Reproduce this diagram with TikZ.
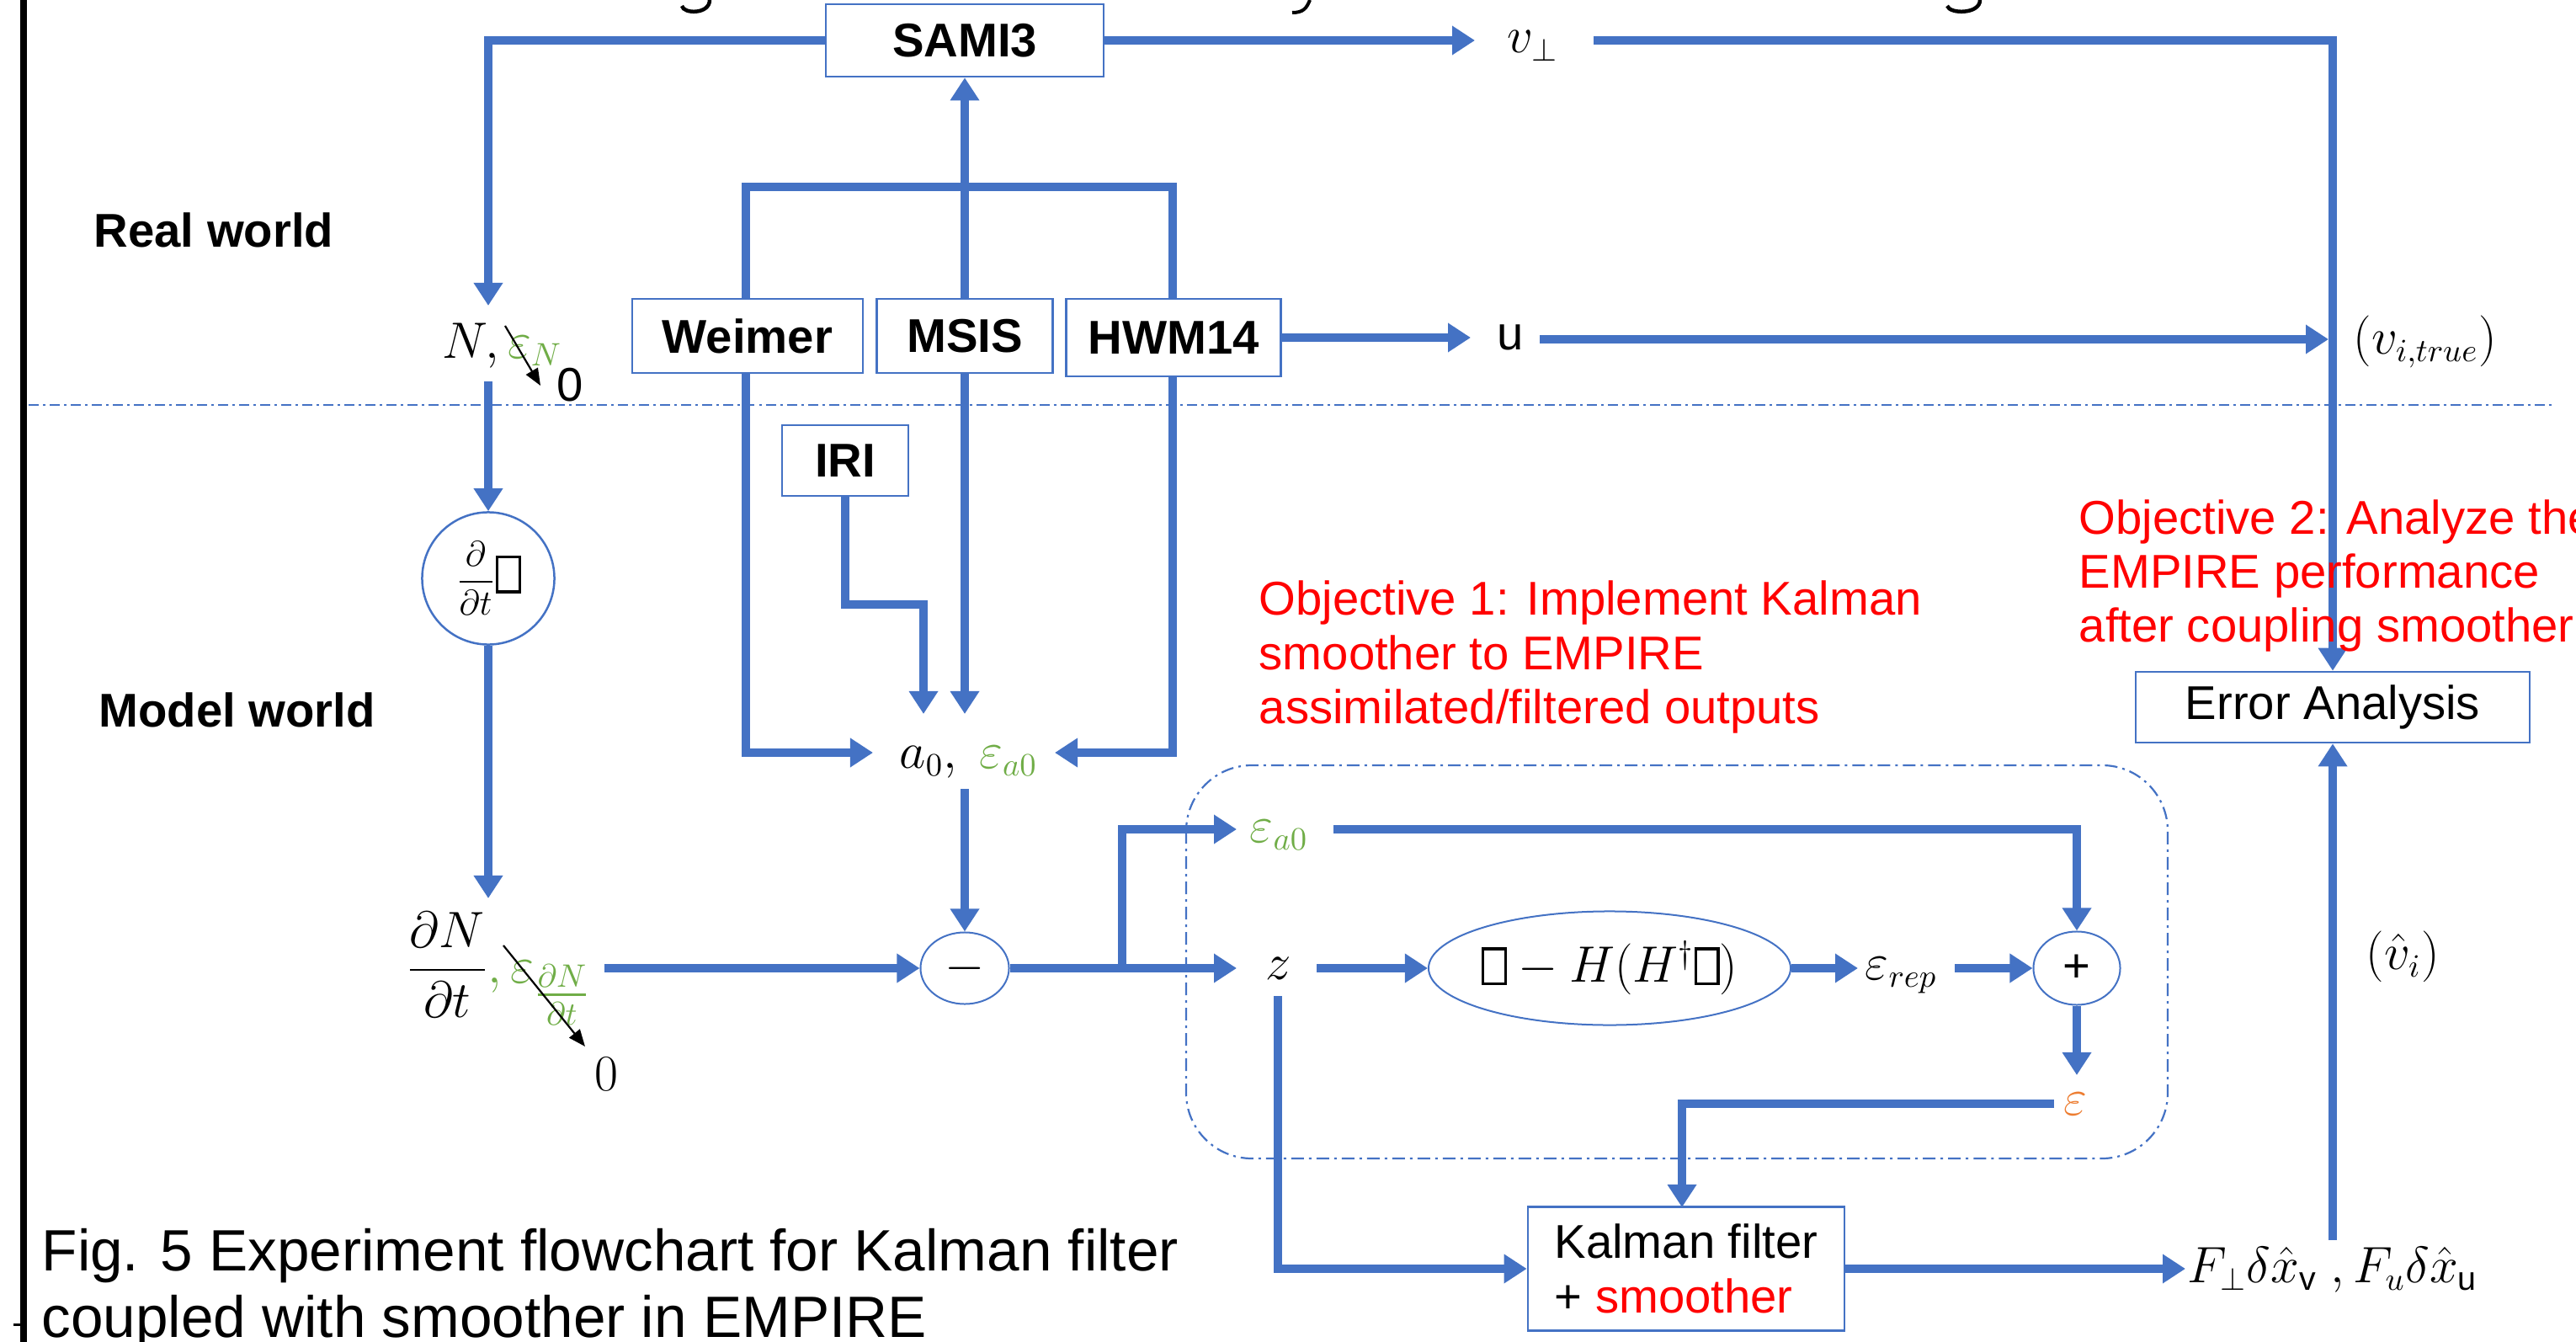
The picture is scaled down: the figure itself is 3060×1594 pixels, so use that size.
\documentclass[tikz,border=0pt]{standalone}
\usepackage{amsmath}
\usepackage{fontspec}
\setmainfont{Liberation Sans}
\usetikzlibrary{arrows.meta,shapes.geometric,calc}
\definecolor{myblue}{HTML}{4472C4}
\definecolor{mygreen}{HTML}{70AD47}
\definecolor{myorange}{HTML}{ED7D31}
\newcommand\nbox{\mbox{\setlength{\fboxsep}{0pt}\setlength{\fboxrule}{0.9pt}\fbox{\rule{0pt}{0.68em}\hspace{0.42em}}}}
\newcommand\fsz{\fontsize{16}{18.4}\selectfont}
\pgfdeclarelayer{background}
\pgfsetlayers{background,main}
\tikzset{
  arr/.style={draw=myblue, line width=0.1cm, -{Triangle[length=0.27cm,width=0.33cm]}},
  arrboth/.style={draw=myblue, line width=0.1cm, {Triangle[length=0.27cm,width=0.33cm]}-{Triangle[length=0.27cm,width=0.33cm]}},
  blkbox/.style={draw=myblue, line width=0.025cm, fill=white, font=\fsz\bfseries, inner sep=0},
  plainbox/.style={draw=myblue, line width=0.025cm, fill=white, inner sep=0},
  lbl/.style={inner sep=0},
  blkarr/.style={draw=black, line width=0.022cm, -{Triangle[length=0.2cm,width=0.16cm]}},
  dashline/.style={draw=myblue, line width=0.025cm, dash pattern=on 0.12cm off 0.05cm on 0.03cm off 0.05cm},
  dashbox/.style={draw=myblue, line width=0.022cm, dash pattern=on 0.15cm off 0.06cm on 0.03cm off 0.06cm, rounded corners=0.78cm},
  redtxt/.style={inner sep=0, anchor=base west, text=red},
  figcap/.style={inner sep=0, anchor=base west, font=\fontsize{19.7}{22}\selectfont},
  worldlbl/.style={inner sep=0, anchor=west, font=\fsz\bfseries}
}
\begin{document}
\begin{tikzpicture}[x=0.01cm,y=-0.01cm,font=\fsz]
\useasboundingbox (0,0) rectangle (3060,1594);
\clip (0,0) rectangle (3060,1594);

% left black rule and fragments
\draw[line width=0.08cm] (28,0) -- (28,1594);
\draw[line width=0.03cm] (16,1573) -- (28,1573);
\draw[line width=0.045cm] (843,0) .. controls (843,17) and (812,17) .. (810,7);
\draw[line width=0.04cm] (1556,0) .. controls (1552,10) and (1548,15) .. (1535,15);
\draw[line width=0.045cm] (2352,0) .. controls (2352,17) and (2316,17) .. (2313,7);

% boxes
\node[blkbox, minimum width=3.30cm, minimum height=0.86cm] (sami) at (1146,48) {SAMI3};
\node[blkbox, minimum width=2.74cm, minimum height=0.88cm] (weimer) at (888,399) {Weimer};
\node[blkbox, minimum width=2.09cm, minimum height=0.88cm] (msis) at (1146,399) {MSIS};
\node[blkbox, minimum width=2.55cm, minimum height=0.92cm] (hwm) at (1394,401) {HWM14};
\node[blkbox, minimum width=1.50cm, minimum height=0.84cm] (iri) at (1004,547) {IRI};
\node[plainbox, minimum width=4.68cm, minimum height=0.84cm] (err) at (2771,840) {Error Analysis};
\node[plainbox, minimum width=3.76cm, minimum height=1.47cm, align=left] (kal) at (2003,1507) {Kalman filter\\+ \textcolor{red}{smoother}};

\node[draw=myblue, line width=0.025cm, circle, minimum size=1.57cm, inner sep=0] (ddt) at (580,687) {\fontsize{12.5}{14}\selectfont$\dfrac{\partial}{\partial t}$\fsz\nbox};
\node[draw=myblue, line width=0.02cm, ellipse, minimum width=1.05cm, minimum height=0.85cm, inner sep=0] (minus) at (1146,1150) {$-$};
\node[draw=myblue, line width=0.02cm, ellipse, minimum width=1.03cm, minimum height=0.87cm, inner sep=0] (plus) at (2467,1150) {+};
\node[draw=myblue, line width=0.02cm, ellipse, minimum width=3.75cm, minimum height=1.35cm, inner sep=0] (hop) at (1912,1150) {$\nbox - H(H^{\dagger}\nbox)$};

% labels
\node[worldlbl] (real) at (111,273) {Real world};
\node[worldlbl] (model) at (117,843) {Model world};
\node[lbl, anchor=base west] (nlab) at (525,425) {$N,\textcolor{mygreen}{\varepsilon_N}$};
\node[lbl] (zero1) at (677,457) {0};
\node[lbl, anchor=base west] (dnlab) at (482,1167) {$\dfrac{\partial N}{\partial t}\textcolor{mygreen}{,\varepsilon_{\textstyle\frac{\partial N}{\partial t}}}$};
\node[lbl] (zero2) at (720,1276) {$0$};
\node[lbl, anchor=base west] (a0) at (1068,912) {$a_0,\ \textcolor{mygreen}{\varepsilon_{a0}}$};
\node[lbl, anchor=base west] (vperp) at (1790,63) {$v_\perp$};
\node[lbl, anchor=base west] (u) at (1778,416) {u};
\node[lbl, anchor=base west] (vtrue) at (2795,420) {$(v_{i,true})$};
\node[lbl, anchor=base west] (ea0) at (1484,1000) {$\textcolor{mygreen}{\varepsilon_{a0}}$};
\node[lbl, anchor=base west] (z) at (1503,1163) {$z$};
\node[lbl, anchor=base west] (erep) at (2215,1163) {$\varepsilon_{rep}$};
\node[lbl] (eps) at (2465,1311) {$\textcolor{myorange}{\varepsilon}$};
\node[lbl, anchor=base west] (F) at (2598,1523) {$F_{\perp}\delta\hat{x}_{\text{v}}\ ,F_{u}\delta\hat{x}_{\text{u}}$};
\node[lbl, anchor=base west] (vhat) at (2810,1151) {$(\hat{v}_i)$};

\node[redtxt] (o1a) at (1495,730) {Objective 1: Implement Kalman};
\node[redtxt] (o1b) at (1495,795) {smoother to EMPIRE};
\node[redtxt] (o1c) at (1495,859) {assimilated/filtered outputs};
\node[redtxt] (o2a) at (2469,634) {Objective 2: Analyze the};
\node[redtxt] (o2b) at (2469,698) {EMPIRE performance};
\node[redtxt] (o2c) at (2469,762) {after coupling smoother};

\node[figcap] (cap1) at (49,1509) {Fig. 5 Experiment flowchart for Kalman filter};
\node[figcap] (cap2) at (49,1588) {coupled with smoother in EMPIRE};

% coordinates
\coordinate (vpin) at (1752,48);
\coordinate (vpout) at (1893,48);
\coordinate (nin) at (580,363);
\coordinate (nout) at (580,453);
\coordinate (dnin) at (580,1067);
\coordinate (dnout) at (718,1150);
\coordinate (a0out) at (1146,937);
\coordinate (zin) at (1469,1150);
\coordinate (br) at (1333,1150);
\coordinate (eain) at (1469,985);
\coordinate (eaout) at (1584,985);
\coordinate (zout) at (1564,1150);
\coordinate (repin) at (2207,1150);
\coordinate (repout) at (2322,1150);
\coordinate (epsin) at (2467,1277);
\coordinate (epsout) at (2440,1311);
\coordinate (kaltop) at (1998,1434);
\coordinate (zdown) at (1518,1183);
\coordinate (fin) at (2596,1507);
\coordinate (fup) at (2771,1473);
\coordinate (uin) at (1747,401);
\coordinate (uout) at (1829,403);
\coordinate (truein) at (2766,403);
\coordinate (wltip) at (1037,894);
\coordinate (wl) at (886,894);
\coordinate (wtop) at (886,222);
\coordinate (htop) at (1393,222);
\coordinate (hr) at (1393,894);
\coordinate (hrtip) at (1253,894);
\coordinate (mtip) at (1146,848);
\coordinate (iriturn) at (1097,718);
\coordinate (iritip) at (1097,848);
\coordinate (d1s) at (600,387);
\coordinate (d1e) at (642,458);
\coordinate (d2s) at (598,1123);
\coordinate (d2e) at (695,1243);
\coordinate (hl1) at (34,481);
\coordinate (hl2) at (3032,481);

\begin{pgfonlayer}{background}
\draw[dashline] (hl1) -- (hl2);
\draw[dashbox] (1409,909) rectangle (2575,1376);
\draw[arr] (sami.east) -- (vpin);
\draw[arr] (vpout) -| (err.north);
\draw[arr] (sami.west) -| (nin);
\draw[arr] (nout) -- (ddt.north);
\draw[arr] (ddt.south) -- (dnin);
\draw[arr] (dnout) -- (minus.west);
\draw[arr] (a0out) -- (minus.north);
\draw[arr] (minus.east) -- (zin);
\draw[arr] (br) |- (eain);
\draw[arr] (eaout) -| (plus.north);
\draw[arr] (zout) -- (hop.west);
\draw[arr] (hop.east) -- (repin);
\draw[arr] (repout) -- (plus.west);
\draw[arr] (plus.south) -- (epsin);
\draw[arr] (epsout) -| (kaltop);
\draw[arr] (zdown) |- (kal.west);
\draw[arr] (kal.east) -- (fin);
\draw[arr] (fup) -- (err.south);
\draw[arr] (hwm.east) -- (uin);
\draw[arr] (uout) -- (truein);
\draw[arrboth] (wltip) -- (wl) -- (wtop) -- (htop) -- (hr) -- (hrtip);
\draw[arrboth] (mtip) -- (sami.south);
\draw[arr] (iri.south) |- (iriturn) -- (iritip);
\end{pgfonlayer}
\draw[blkarr] (d1s) -- (d1e);
\draw[blkarr] (d2s) -- (d2e);
\end{tikzpicture}
\end{document}
